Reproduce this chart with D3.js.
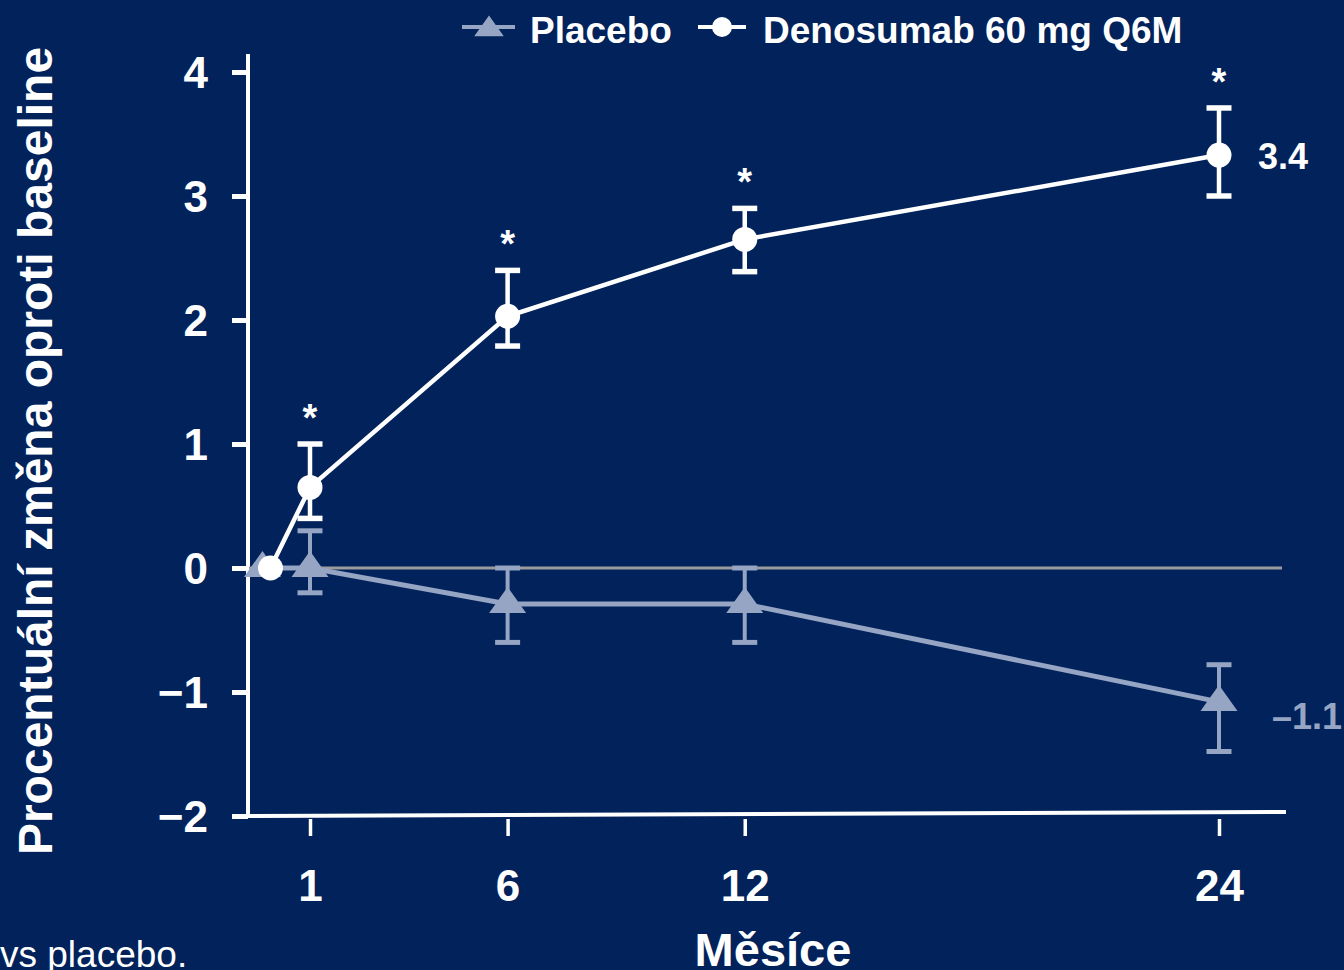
<!DOCTYPE html>
<html>
<head>
<meta charset="utf-8">
<script src="https://cdnjs.cloudflare.com/ajax/libs/d3/7.8.5/d3.min.js"></script>
<style>
  html, body { margin: 0; padding: 0; background: #01225a; overflow: hidden; }
  text { font-family: "Liberation Sans", Arial, sans-serif; }
</style>
</head>
<body>
<div id="chart"></div>
<script>
//data
const months = [0, 1, 6, 12, 24];
const denoMean = [0, 0.65, 2.03, 2.65, 3.33];
const denoLow = [null, 0.4, 1.79, 2.39, 3.0];
const denoHigh = [null, 1.0, 2.4, 2.9, 3.71];
const placeboMean = [0, 0.0, -0.29, -0.29, -1.08];
const placeboLow = [null, -0.2, -0.6, -0.6, -1.48];
const placeboHigh = [null, 0.3, 0.0, 0.0, -0.78];
const significant = [false, true, true, true, true];
const yTicks = [-2, -1, 0, 1, 2, 3, 4];
const xTicks = [1, 6, 12, 24];
const denoEndLabel = '3.4';
const placeboEndLabel = '\u20131.1';

const width = 1344, height = 970;
const bg = '#01225a';
const white = '#ffffff';
const placeboColor = '#95a5c3';

let svg = d3.select('#chart')
    .append('svg')
    .attr('width', width)
    .attr('height', height);

svg.append('rect').attr('width', width).attr('height', height).attr('fill', bg);

//scales
let x = d3.scaleLinear().domain([1, 24]).range([310, 1219]);
let y = d3.scaleLinear().domain([-2, 4]).range([816, 72]);

//y axis
let yAxis = svg.append('g').attr('transform', 'translate(248,0)')
    .call(d3.axisLeft(y).tickValues(yTicks).tickSize(16).tickPadding(24)
        .tickFormat(function(d) { return d < 0 ? '\u2212' + Math.abs(d) : d; }));
yAxis.select('.domain').remove();
yAxis.selectAll('.tick line').attr('stroke', white).attr('stroke-width', 5);
yAxis.selectAll('.tick text')
    .attr('fill', white)
    .style('font-size', '44px')
    .style('font-weight', 'bold')
    .attr('dy', '0.36em');
svg.append('line')
    .attr('x1', 248).attr('x2', 248)
    .attr('y1', 54).attr('y2', y(-2))
    .attr('stroke', white).attr('stroke-width', 4);

//x axis: slightly tilted base line, ticks hang under it
svg.append('line')
    .attr('x1', 232).attr('y1', 816)
    .attr('x2', 1286).attr('y2', 812)
    .attr('stroke', white).attr('stroke-width', 4);
let xAxis = svg.append('g').attr('transform', 'translate(0,819)')
    .call(d3.axisBottom(x).tickValues(xTicks).tickSize(17).tickPadding(33));
xAxis.select('.domain').remove();
xAxis.selectAll('.tick line').attr('stroke', white).attr('stroke-width', 3.5);
xAxis.selectAll('.tick text')
    .attr('fill', white)
    .style('font-size', '44px')
    .style('font-weight', 'bold')
    .attr('dy', '0.72em');

//zero reference line
svg.append('line')
    .attr('x1', 249).attr('x2', 1282)
    .attr('y1', y(0)).attr('y2', y(0))
    .attr('stroke', '#9c9c9c').attr('stroke-width', 3);

//axis titles
svg.append('text')
    .attr('transform', 'translate(52,451) rotate(-90)')
    .attr('text-anchor', 'middle')
    .attr('fill', white)
    .style('font-size', '48px')
    .style('font-weight', 'bold')
    .text('Procentuální změna oproti baseline');

svg.append('text')
    .attr('x', 773).attr('y', 966)
    .attr('text-anchor', 'middle')
    .attr('fill', white)
    .style('font-size', '47px')
    .style('font-weight', 'bold')
    .text('Měsíce');

svg.append('text')
    .attr('x', 0).attr('y', 967)
    .attr('fill', white)
    .style('font-size', '37px')
    .text('vs placebo.');

//build point lists
let placebo = months.map(function(m, i) {
    return {m: m, v: placeboMean[i], lo: placeboLow[i], hi: placeboHigh[i], dx: m === 0 ? -8 : 0};
});
let deno = months.map(function(m, i) {
    return {m: m, v: denoMean[i], lo: denoLow[i], hi: denoHigh[i], sig: significant[i], dx: 0};
});

let line = d3.line()
    .x(function(d) { return x(d.m) + d.dx; })
    .y(function(d) { return y(d.v); });

//triangle marker, flatter than d3.symbolTriangle
function tri(s) {
    return `M0,${-17 * s}L${18.5 * s},${9 * s}L${-18.5 * s},${9 * s}Z`;
}

function errorBars(g, data, color, w) {
    let eb = g.selectAll('g.eb')
        .data(data.filter(function(d) { return d.lo !== null; }))
        .enter().append('g').attr('class', 'eb');
    eb.append('line')
        .attr('x1', function(d) { return x(d.m); })
        .attr('x2', function(d) { return x(d.m); })
        .attr('y1', function(d) { return y(d.lo); })
        .attr('y2', function(d) { return y(d.hi); })
        .attr('stroke', color).attr('stroke-width', w);
    ['lo', 'hi'].forEach(function(k) {
        eb.append('line')
            .attr('x1', function(d) { return x(d.m) - 12.5; })
            .attr('x2', function(d) { return x(d.m) + 12.5; })
            .attr('y1', function(d) { return y(d[k]); })
            .attr('y2', function(d) { return y(d[k]); })
            .attr('stroke', color).attr('stroke-width', w + 1);
    });
}

//placebo series
let gp = svg.append('g');
errorBars(gp, placebo, placeboColor, 4);
gp.append('path')
    .datum(placebo)
    .attr('d', line)
    .attr('fill', 'none')
    .attr('stroke', placeboColor)
    .attr('stroke-width', 5);
gp.selectAll('path.tri')
    .data(placebo)
    .enter().append('path')
    .attr('class', 'tri')
    .attr('d', tri(1))
    .attr('transform', function(d) { return `translate(${x(d.m) + d.dx},${y(d.v)})`; })
    .attr('fill', placeboColor);

//denosumab series
let gd = svg.append('g');
errorBars(gd, deno, white, 4.5);
gd.append('path')
    .datum(deno)
    .attr('d', line)
    .attr('fill', 'none')
    .attr('stroke', white)
    .attr('stroke-width', 4.5);
gd.selectAll('circle')
    .data(deno)
    .enter().append('circle')
    .attr('cx', function(d) { return x(d.m); })
    .attr('cy', function(d) { return y(d.v); })
    .attr('r', 12.5)
    .attr('fill', white);

//significance stars
gd.selectAll('text.star')
    .data(deno.filter(function(d) { return d.sig; }))
    .enter().append('text')
    .attr('class', 'star')
    .attr('x', function(d) { return x(d.m); })
    .attr('y', function(d) { return y(d.hi) - 13; })
    .attr('text-anchor', 'middle')
    .attr('fill', white)
    .style('font-size', '38px')
    .style('font-weight', 'bold')
    .text('*');

//end value labels
let lastD = deno[deno.length - 1], lastP = placebo[placebo.length - 1];
svg.append('text')
    .attr('x', x(lastD.m) + 39).attr('y', y(lastD.v) + 14)
    .attr('fill', white)
    .style('font-size', '36px')
    .style('font-weight', 'bold')
    .text(denoEndLabel);
svg.append('text')
    .attr('x', x(lastP.m) + 53).attr('y', y(lastP.v) + 27)
    .attr('fill', placeboColor)
    .style('font-size', '36px')
    .style('font-weight', 'bold')
    .text(placeboEndLabel);

//legend
let legend = svg.append('g');
legend.append('line')
    .attr('x1', 462).attr('x2', 515).attr('y1', 27).attr('y2', 27)
    .attr('stroke', placeboColor).attr('stroke-width', 4);
legend.append('path')
    .attr('d', tri(0.8))
    .attr('transform', 'translate(489,29)')
    .attr('fill', placeboColor);
legend.append('text')
    .attr('x', 530).attr('y', 43)
    .attr('fill', white)
    .style('font-size', '37px')
    .style('font-weight', 'bold')
    .text('Placebo');
legend.append('line')
    .attr('x1', 698).attr('x2', 746).attr('y1', 27).attr('y2', 27)
    .attr('stroke', white).attr('stroke-width', 4);
legend.append('circle')
    .attr('cx', 722).attr('cy', 27).attr('r', 10)
    .attr('fill', white);
legend.append('text')
    .attr('x', 763).attr('y', 43)
    .attr('fill', white)
    .style('font-size', '37px')
    .style('font-weight', 'bold')
    .text('Denosumab 60 mg Q6M');
</script>
</body>
</html>
